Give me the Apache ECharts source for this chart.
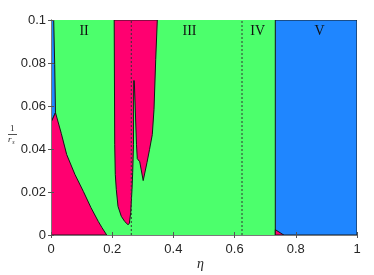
<!DOCTYPE html>
<html><head><meta charset="utf-8">
<script src="https://cdn.jsdelivr.net/npm/echarts@6/dist/echarts.min.js"></script>
<style>html,body{margin:0;padding:0;background:#fff}#c{width:374px;height:275px}</style>
</head><body><div id="c"></div>
<script>
// axis ticks
const xTicks = [0, 0.2, 0.4, 0.6, 0.8, 1];
const yTicks = [0, 0.02, 0.04, 0.06, 0.08, 0.1];
// phase regions, [eta, 1/r_s] vertices
const blueLeft = [[0,0.1],[0.0088,0.1],[0.0121,0.0793],[0.0147,0.0569],[0,0.0523]];
const pinkLower = [[0,0],[0,0.0523],[0.0147,0.0569],[0.0337,0.0472],[0.0513,0.0374],[0.0784,0.0281],
  [0.1056,0.0203],[0.1307,0.0127],[0.1546,0.0063],[0.1667,0.0034],[0.182,0]];
const pinkBand = [[0.2065,0.1],[0.2082,0.0420],[0.2101,0.0281],[0.2134,0.0211],[0.2190,0.0133],
  [0.2297,0.0087],[0.2408,0.0063],[0.2516,0.0048],[0.2559,0.0053],[0.2605,0.0104],[0.2647,0.0211],
  [0.2670,0.0290],[0.2696,0.0420],[0.2703,0.0718],[0.2722,0.0718],[0.2794,0.0420],[0.2820,0.0355],
  [0.2899,0.0341],[0.3013,0.0253],[0.3137,0.0337],[0.3219,0.0397],[0.3310,0.0467],[0.3366,0.0583],
  [0.3422,0.0816],[0.3474,0.1]];
const blueRight = [[0.733,0],[1,0],[1,0.1],[0.733,0.1]];
const pinkSmall = [[0.733,0],[0.733,0.0025],[0.7605,0]];
// dashed boundaries
const dashedEta = [0.2624, 0.6242];
// region labels
const regionLabels = ['II', 'III', 'IV', 'V'];
const regionLabelEta = [0.108, 0.4526, 0.6755, 0.878];
const regionLabelV = 0.0949;

const GREEN = '#4cff6c', PINK = '#ff0070', BLUE = '#1f86ff', EDGE = '#161616';

function polySeries(pts, fill, z) {
  return {
    type: 'custom', data: [[0, 0]], z: z, clip: true, silent: true,
    renderItem: function (params, api) {
      return { type: 'polygon', shape: { points: pts.map(p => api.coord(p)) },
        style: { fill: fill, stroke: EDGE, lineWidth: 1 } };
    }
  };
}

const series = [
  polySeries(blueLeft, BLUE, 2),
  polySeries(pinkLower, PINK, 2),
  polySeries(pinkBand, PINK, 2),
  polySeries(blueRight, BLUE, 2),
  polySeries(pinkSmall, PINK, 2)
];
dashedEta.forEach(e => series.push({
  type: 'line', data: [[e, 0], [e, 0.1]], symbol: 'none', silent: true, z: 3,
  lineStyle: { type: [2, 2], color: '#333', width: 1 }
}));
series.push({
  type: 'custom', data: regionLabels.map((t, i) => [regionLabelEta[i], regionLabelV]), z: 4, silent: true,
  renderItem: function (params, api) {
    const p = api.coord([api.value(0), api.value(1)]);
    return { type: 'text', x: p[0], y: p[1],
      style: { text: regionLabels[params.dataIndex], fill: '#111', font: '14px "Liberation Serif"',
        align: 'center', verticalAlign: 'middle' } };
  }
});

const axisLineStyle = { show: true, lineStyle: { color: '#7a7a7a', width: 1 } };
const tickStyle = { show: true, inside: true, length: 3, lineStyle: { color: '#555' } };
const labelFont = { color: '#262626', fontSize: 13, fontFamily: 'Liberation Sans' };

const option = {
  animation: false,
  grid: { left: 51, right: 17, top: 20, bottom: 40, show: true, backgroundColor: GREEN, borderWidth: 0 },
  xAxis: [
    { type: 'value', min: 0, max: 1, interval: 0.2, position: 'bottom', z: 10,
      axisLine: axisLineStyle, axisTick: tickStyle, splitLine: { show: false },
      axisLabel: Object.assign({ margin: 8, formatter: v => xTicks.includes(v) ? String(v) : '' }, labelFont) },
    { type: 'value', min: 0, max: 1, interval: 0.2, position: 'top', z: 10,
      axisLine: axisLineStyle, axisTick: tickStyle, splitLine: { show: false }, axisLabel: { show: false } }
  ],
  yAxis: [
    { type: 'value', min: 0, max: 0.1, interval: 0.02, position: 'left', z: 10,
      axisLine: axisLineStyle, axisTick: tickStyle, splitLine: { show: false },
      axisLabel: Object.assign({ margin: 5, formatter: v => { const t = yTicks.find(k => Math.abs(k - v) < 1e-9); return t === undefined ? '' : String(t); } }, labelFont) },
    { type: 'value', min: 0, max: 0.1, interval: 0.02, position: 'right', z: 10,
      axisLine: axisLineStyle, axisTick: tickStyle, splitLine: { show: false }, axisLabel: { show: false } }
  ],
  graphic: [
    { type: 'text', left: 197, top: 257, style: { text: 'η', font: 'italic 14px "Liberation Serif"', fill: '#262626' } },
    { type: 'text', left: 10, top: 124, style: { text: '1', font: '9px "Liberation Serif"', fill: '#262626' } },
    { type: 'rect', left: 8, top: 134, shape: { x: 0, y: 0, width: 9, height: 0.8 }, style: { fill: '#262626' } },
    { type: 'text', left: 8, top: 135.5, style: { text: 'r', font: 'italic 9px "Liberation Serif"', fill: '#262626' } },
    { type: 'text', left: 12.2, top: 139, style: { text: 's', font: 'italic 6px "Liberation Serif"', fill: '#262626' } }
  ],
  series: series
};
const chart = echarts.init(document.getElementById('c'), null, { renderer: 'canvas' });
chart.setOption(option);
</script></body></html>
